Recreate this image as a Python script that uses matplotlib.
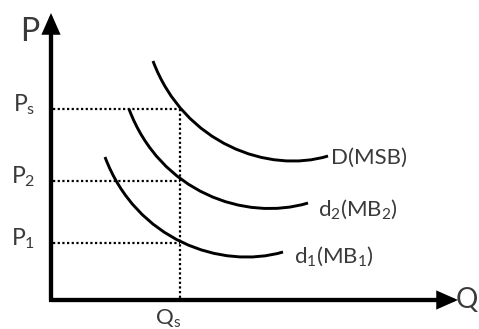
import matplotlib
matplotlib.use("Agg")
import matplotlib.pyplot as plt
from matplotlib.path import Path
from matplotlib.patches import PathPatch

# Price levels marked on the vertical axis and the quantity on the horizontal axis
price_labels = [r"P$_\mathrm{s}$", r"P$_2$", r"P$_1$"]
price_values = [191, 119, 57]
q_social = 129
q_label = r"Q$_\mathrm{s}$"

# Demand curves as cubic Bezier control points (quantity, price)
curve_names = ["D(MSB)", r"d$_2$(MB$_2$)", r"d$_1$(MB$_1$)"]
msb_q = [102, 133, 218, 277]
msb_p = [239, 156, 126, 144]
mb2_q = [78, 109, 194, 257]
mb2_p = [191, 108, 78, 97]
mb1_q = [54, 85, 170, 232]
mb1_p = [143, 60, 30, 48]

# Axis extents
q_max = 407
p_max = 287

plt.rcParams["font.family"] = ["Lato", "DejaVu Sans"]
plt.rcParams["font.weight"] = "normal"
plt.rcParams["mathtext.fontset"] = "custom"
plt.rcParams["mathtext.rm"] = "Lato"
plt.rcParams["mathtext.it"] = "Lato"
plt.rcParams["mathtext.bf"] = "Lato"

text_color = "#3a3a3a"

fig = plt.figure(figsize=(4.79, 3.29), dpi=100)
ax = fig.add_axes([0, 0, 1, 1])
ax.set_xlim(-51, 428)
ax.set_ylim(-29, 300)
ax.axis("off")

# Axes with arrowheads
ax.plot([0, 0, q_max - 20], [p_max - 20, 0, 0], color="black", lw=3,
        solid_joinstyle="miter", solid_capstyle="butt", zorder=4)
arrow_kw = dict(arrowstyle="-|>,head_length=0.95,head_width=0.42",
                color="black", lw=3, mutation_scale=11,
                shrinkA=0, shrinkB=0, joinstyle="miter")
ax.annotate("", xy=(0, p_max), xytext=(0, 0), arrowprops=arrow_kw, zorder=4)
ax.annotate("", xy=(q_max, 0), xytext=(0, 0), arrowprops=arrow_kw, zorder=4)

ax.text(-21, 268, "P", fontsize=23, color=text_color, ha="center", va="center")
ax.text(405, 0, "Q", fontsize=20, color=text_color, ha="left", va="center")

# Dotted guide lines
for lab, pv in zip(price_labels, price_values):
    ax.plot([2, q_social], [pv, pv], color="black", lw=1.6,
            linestyle=(0, (1, 1.1)), zorder=2)
    ax.text(-16, pv - 2, lab, fontsize=16.5, color=text_color,
            ha="right", va="baseline")
ax.plot([q_social, q_social], [price_values[0], 0], color="black", lw=1.6,
        linestyle=(0, (1, 1.1)), zorder=2)
ax.text(q_social - 12, -8, q_label, fontsize=16, color=text_color,
        ha="center", va="top")

# Demand curves with their labels placed just past the right end
codes = [Path.MOVETO, Path.CURVE4, Path.CURVE4, Path.CURVE4]
label_shift = [(3, -8), (10, -13), (11, -11)]
for qs, ps, name, (dx, dy) in zip([msb_q, mb2_q, mb1_q], [msb_p, mb2_p, mb1_p],
                                   curve_names, label_shift):
    path = Path(list(zip(qs, ps)), codes)
    ax.add_patch(PathPatch(path, facecolor="none", edgecolor="black", lw=2.1,
                           capstyle="butt", zorder=3))
    ax.text(qs[-1] + dx, ps[-1] + dy, name, fontsize=16, color=text_color,
            ha="left", va="baseline")

fig.savefig("out.png", dpi=100)
